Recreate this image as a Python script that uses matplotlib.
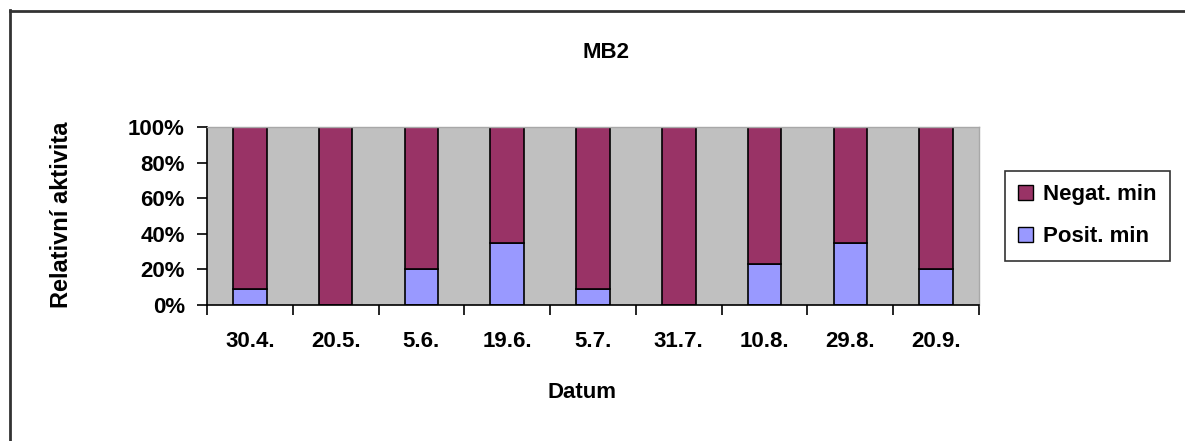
import matplotlib
matplotlib.use("Agg")
import matplotlib.pyplot as plt
from matplotlib.patches import Patch
from matplotlib.lines import Line2D
import numpy as np

plt.rcParams['font.family'] = ['Liberation Sans', 'DejaVu Sans']

dates = ["30.4.", "20.5.", "5.6.", "19.6.", "5.7.", "31.7.", "10.8.", "29.8.", "20.9."]
posit = [9, 0, 20, 35, 9, 0, 23, 35, 20]
negat = [100 - p for p in posit]

NEG_COLOR = "#993366"
POS_COLOR = "#9999FF"
BG_COLOR = "#C0C0C0"

W, H = 1185, 441
fig = plt.figure(figsize=(W / 100, H / 100), dpi=100)
fig.patch.set_facecolor("white")

ax = fig.add_axes([207 / W, 1 - 305 / H, (979 - 207) / W, (305 - 127) / H])
ax.set_facecolor(BG_COLOR)

x = np.arange(len(dates))
ax.bar(x, posit, width=0.39, color=POS_COLOR, edgecolor="black", linewidth=1.2, label="Posit. min")
ax.bar(x, negat, width=0.39, bottom=posit, color=NEG_COLOR, edgecolor="black", linewidth=1.2, label="Negat. min")

ax.set_xlim(-0.5, len(dates) - 0.5)
ax.set_ylim(0, 100)

# category boundaries carry the tick marks, centres carry the labels
ax.set_xticks(np.arange(len(dates) + 1) - 0.5)
ax.set_xticklabels([])
ax.set_xticks(x, minor=True)
ax.set_xticklabels(dates, minor=True, fontsize=16, fontweight="bold")
ax.tick_params(axis="x", which="major", direction="out", length=7, width=1.2, color="black")
ax.tick_params(axis="x", which="minor", length=0, pad=19)

ax.set_yticks([0, 20, 40, 60, 80, 100])
ax.set_yticklabels([f"{v}%" for v in [0, 20, 40, 60, 80, 100]], fontsize=16, fontweight="bold")
ax.tick_params(axis="y", direction="out", length=7, width=1.2, pad=9)

for s in ["top", "right"]:
    ax.spines[s].set_color("#A8A8A8")
    ax.spines[s].set_linewidth(1)
for s in ["left", "bottom"]:
    ax.spines[s].set_color("black")
    ax.spines[s].set_linewidth(1.2)

fig.text(606 / W, 1 - 52 / H, "MB2", ha="center", va="center", fontsize=16, fontweight="bold")
fig.text(582 / W, 1 - 392 / H, "Datum", ha="center", va="center", fontsize=16, fontweight="bold")
fig.text(62 / W, 1 - 215 / H, "Relativní aktivita", ha="center", va="center", rotation=90,
         fontsize=17, fontweight="bold")

handles = [Patch(facecolor=NEG_COLOR, edgecolor="black", linewidth=1),
           Patch(facecolor=POS_COLOR, edgecolor="black", linewidth=1)]
leg = fig.legend(handles, ["Negat. min", "Posit. min"], loc="upper left",
                 bbox_to_anchor=(1005 / W, 1 - 171 / H), borderaxespad=0,
                 fancybox=False, frameon=True, edgecolor="black",
                 prop={"size": 16, "weight": "bold"}, handlelength=0.65, handleheight=0.65,
                 handletextpad=0.45, labelspacing=0.95, borderpad=0.6)
leg.get_frame().set_linewidth(1.2)

# outer chart frame
fig.add_artist(Line2D([9.5 / W, 9.5 / W], [0, 1 - 10 / H], color="#333333", linewidth=2, transform=fig.transFigure))
fig.add_artist(Line2D([9.5 / W, 1], [1 - 10.5 / H, 1 - 10.5 / H], color="#333333", linewidth=2, transform=fig.transFigure))

fig.savefig("out.png", dpi=100)
